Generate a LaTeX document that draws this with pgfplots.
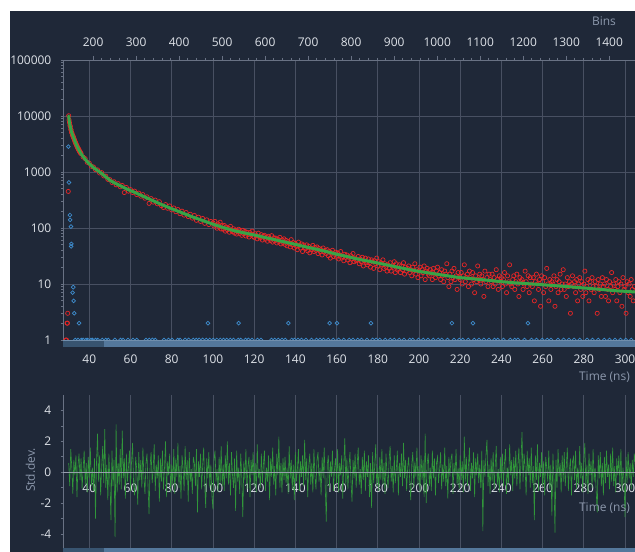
\documentclass[border=0pt]{standalone}
\usepackage{pgfplots}
\pgfplotsset{compat=1.18}
\usepackage{fontspec}
\setmainfont{Open Sans}
\definecolor{bgc}{RGB}{31,40,56}
\definecolor{gridc}{RGB}{72,80,98}
\definecolor{axc}{RGB}{105,114,132}
\definecolor{tickc}{RGB}{222,226,232}
\definecolor{dimc}{RGB}{140,152,172}
\definecolor{redc}{RGB}{232,38,38}
\definecolor{fitc}{RGB}{55,165,70}
\definecolor{bluec}{RGB}{62,140,205}
\definecolor{resc}{RGB}{48,150,58}
\definecolor{zeroc}{RGB}{150,158,172}
\definecolor{barc}{RGB}{84,120,156}
\definecolor{bardc}{RGB}{56,84,112}
\definecolor{barl}{RGB}{112,142,172}
\newcommand{\tf}{\fontsize{12}{14}\selectfont}
\pgfplotsset{base/.style={scale only axis, width=572bp, xmin=27.23, xmax=304.85,
  /pgf/number format/assume math mode=true, /pgf/number format/1000 sep={},
  tick label style={font=\tf, text=tickc},
  axis line style={axc, line width=0.8bp},
  major grid style={gridc, line width=0.8bp},
  tick style={axc, line width=0.8bp}}}
\begin{document}
\begin{tikzpicture}[x=1bp,y=1bp]
\fill[white] (0,0) rectangle (635,-552);
\fill[bgc] (10,-11) rectangle (635,-552);
% main decay plot
\begin{axis}[base, at={(63bp,-340bp)}, anchor=south west, height=280bp,
  ymode=log, ymin=1, ymax=100000, axis lines*=left, clip marker paths=true,
  xtick={40,60,...,300}, ytick={1,10,100,1000,10000,100000},
  yticklabels={1,10,100,1000,10000,100000},
  minor ytick={2,3,4,5,6,7,8,9,20,30,40,50,60,70,80,90,200,300,400,500,600,700,800,900,2000,3000,4000,5000,6000,7000,8000,9000,20000,30000,40000,50000,60000,70000,80000,90000},
  grid=major, x tick style={draw=none}, tick align=outside,
  major tick length=2.5bp, minor tick length=2bp,
  xticklabel style={anchor=north, inner sep=0pt, yshift=-11.8bp},
  yticklabel style={anchor=east, inner sep=0pt, xshift=-9bp}]
% IRF (blue)
\addplot[only marks, mark=o, mark size=1.9bp, bluec, line width=0.7bp] coordinates {
(29.8,2840) (30.1,650) (30.6,170) (30.7,140) (31.1,106) (31.2,47) (31.3,52) (31.9,7) (32.2,8.8) (32.4,5) (32.7,3) (35.0,2)
(97.6,2) (112.5,2) (136.6,2) (156.6,2) (160.2,2) (176.7,2) (216,2) (226.2,2) (252.9,2)
(33.2,1) (34.5,1) (36.1,1) (37.0,1) (38.4,1) (39.2,1) (40.8,1) (41.5,1) (43.0,1) (44.1,1) (46.3,1) (48.0,1) (49.2,1) (52.4,1) (55.1,1) (56.3,1) (58.8,1) (61.2,1) (63.0,1) (67.5,1) (69.1,1) (70.6,1) (72.0,1) (76.2,1) (78.4,1) (80.1,1) (82.9,1) (84.0,1) (86.5,1) (88.2,1) (90.4,1) (91.9,1) (93.3,1) (95.0,1) (96.8,1) (98.5,1) (100.2,1) (101.9,1) (103.6,1) (105.1,1) (106.7,1) (108.4,1) (110.0,1) (112.3,1) (113.5,1) (115.8,1) (117.2,1) (119.0,1) (121.6,1) (123.3,1) (128.4,1) (130.0,1) (131.7,1) (133.5,1) (135.1,1) (138.2,1) (139.6,1) (141.3,1) (143.0,1) (145.2,1) (147.8,1) (150.3,1) (152.0,1) (153.7,1) (156.0,1) (158.4,1) (161.0,1) (163.5,1) (166.2,1) (168.0,1) (170.3,1) (172.1,1) (174.8,1) (177.5,1) (179.2,1) (181.0,1) (183.6,1) (186.1,1) (188.0,1) (190.4,1) (192.7,1) (195.5,1) (197.0,1) (199.8,1) (202.1,1) (204.4,1) (206.9,1) (209.3,1) (211.0,1) (213.8,1) (217.0,1) (219.5,1) (221.2,1) (223.9,1) (226.8,1) (229.1,1) (231.5,1) (234.0,1) (236.7,1) (238.2,1) (241.0,1) (244.3,1) (246.5,1) (248.0,1) (251.2,1) (254.6,1) (257.0,1) (259.8,1) (262.3,1) (264.1,1) (267.5,1) (270.2,1) (272.8,1) (275.3,1) (278.0,1) (281.6,1) (284.2,1) (287.0,1) (289.9,1) (292.5,1) (295.1,1) (297.8,1) (300.4,1) (303.0,1)};
% decay data (red)
\addplot[only marks, mark=o, mark size=2.1bp, redc, line width=0.7bp] coordinates {
(28.6,1) (28.9,1) (29.2,2) (29.4,2) (29.5,3) (29.8,450)
(30.0,10100) (30.2,8450) (30.4,7600) (30.6,6800) (30.8,6500) (31.0,5800) (31.2,5600) (31.4,5050) (31.6,4950) (31.8,4550)
(32.0,4500) (32.2,4180) (32.4,4150) (32.6,3850) (32.8,3780) (33.0,3480) (33.2,3450) (33.4,3200) (33.6,3190) (33.8,2960)
(34.0,2950) (34.2,2750) (34.4,2740) (34.6,2570) (34.8,2570) (35.0,2400) (35.2,2420) (35.4,2270) (35.6,2280) (35.8,2140) (36.0,2150)
(37,1850) (38,1730) (39,1490) (40,1430) (41,1260) (42,1230) (43,1100) (44,1090) (45,960) (46,975) (47,850) (48,845) (49,740)
(50,730) (51,650) (52,670) (53,590) (54,620) (55,545) (56,575) (57,430) (58,530) (59,455) (60,485) (61,430) (62,455) (63,395)
(64,420) (65,370) (66,395) (67,340) (68,360) (69,275) (70,335) (71,290) (72,315) (73,270) (74,295) (75,250) (76,232) (77,262)
(78,225) (79,248) (80,210) (81,228) (82,195) (83,214) (84,180) (85,200) (86,170) (87,189) (88,160) (89,176) (90,150) (91,168)
(92,137) (93,156) (94,131) (95,148) (96,121) (97,140) (98,115) (99,131)
(100,124) (100.5,108) (101,131) (101.5,112) (102,99) (102.5,119) (103,105) (103.5,127) (104,96) (104.5,110)
(105,95) (105.5,111) (106,88) (106.5,104) (107,93) (107.5,99) (108,84) (108.5,107) (109,91) (109.5,86)
(110,97) (110.5,81) (111,92) (111.5,78) (112,88) (112.5,95) (113,80) (113.5,86) (114,74) (114.5,91)
(115,79) (115.5,87) (116,72) (116.5,84) (117,76) (117.5,69) (118,83) (118.5,77) (119,88) (119.5,71)
(120,68) (120.5,79) (121,73) (121.5,64) (122,81) (122.5,70) (123,66) (123.5,76) (124,61) (124.5,72)
(125,74) (125.5,63) (126,69) (126.5,58) (127,71) (127.5,65) (128,60) (128.5,73) (129,56) (129.5,67)
(130,59) (130.5,66) (131,54) (131.5,63) (132,57) (132.5,68) (133,52) (133.5,61) (134,55) (134.5,64)
(135,51) (135.5,60) (136,48) (136.5,57) (137,53) (137.5,46) (138,62) (138.5,50) (139,55) (139.5,44)
(140,53) (140.5,47) (141,41) (141.5,56) (142,49) (142.5,44) (143,52) (143.5,38) (144,50) (144.5,45)
(145,43) (145.5,50) (146,39) (146.5,47) (147,36) (147.5,44) (148,41) (148.5,49) (149,38) (149.5,45)
(150,40) (150.5,46) (151,35) (151.5,43) (152,38) (152.5,41) (153,33) (153.5,44) (154,37) (154.5,40)
(155,35) (155.5,41) (156,32) (156.5,38) (157,29) (157.5,36) (158,40) (158.5,31) (159,34) (159.5,37)
(160,30) (160.5,36) (161,28) (161.5,33) (162,38) (162.5,29) (163,31) (163.5,26) (164,34) (164.5,30)
(165,33) (165.5,27) (166,30) (166.5,24) (167,32) (167.5,28) (168,35) (168.5,25) (169,29) (169.5,26)
(170,27) (170.5,31) (171,23) (171.5,28) (172,25) (172.5,30) (173,21) (173.5,26) (174,29) (174.5,24)
(175,22) (175.5,28) (176,24) (176.5,20) (177,27) (177.5,25) (178,19) (178.5,26) (179,23) (179.5,29)
(180,21) (180.5,25) (181,18) (181.5,24) (182,22) (182.5,27) (183,19) (183.5,23) (184,20) (184.5,17)
(185,22) (185.5,19) (186,24) (186.5,17) (187,21) (187.5,20) (188,25) (188.5,16) (189,23) (189.5,18)
(190,19) (190.5,22) (191,16) (191.5,21) (192,18) (192.5,24) (193,15) (193.5,20) (194,17) (194.5,19)
(195,21) (195.5,16) (196,18) (196.5,14) (197,20) (197.5,17) (198,23) (198.5,15) (199,18) (199.5,13)
(200,17) (200.5,20) (201,14) (201.5,18) (202,16) (202.5,21) (203,12) (203.5,17) (204,19) (204.5,15)
(205,14) (205.5,18) (206,16) (206.5,12) (207,19) (207.5,15) (208,13) (208.5,17) (209,20) (209.5,14)
(210,16) (210.5,12) (211,18) (211.5,14) (212,11) (212.5,17) (213,15) (213.5,23) (214,13) (214.5,9)
(215,15) (215.5,11) (216,17) (216.5,13) (217,19) (217.5,12) (218,14) (218.5,8) (219,16) (219.5,13)
(220,12) (220.5,16) (221,10) (221.5,14) (222,22) (222.5,11) (223,13) (223.5,15) (224,9) (224.5,17)
(225,13) (225.5,10) (226,16) (226.5,12) (227,7) (227.5,14) (228,11) (228.5,21) (229,12) (229.5,15)
(230,10) (230.5,14) (231,12) (231.5,6) (232,17) (232.5,11) (233,13) (233.5,9) (234,15) (234.5,12)
(235,11) (235.5,15) (236,9) (236.5,13) (237,10) (237.5,18) (238,12) (238.5,8) (239,14) (239.5,11)
(240,13) (240.5,9) (241,12) (241.5,16) (242,10) (242.5,7) (243,14) (243.5,11) (244,22) (244.5,10)
(245,9) (245.5,12) (246,14) (246.5,8) (247,11) (247.5,15) (248,10) (248.5,6) (249,13) (249.5,11)
(250,12) (250.5,8) (251,10) (251.5,17) (252,11) (252.5,9) (253,14) (253.5,7) (254,13) (254.5,10)
(255,9) (255.5,13) (256,5) (256.5,11) (257,15) (257.5,10) (258,8) (258.5,12) (259,4) (259.5,14)
(260,11) (260.5,7) (261,13) (261.5,9) (262,19) (262.5,10) (263,5) (263.5,12) (264,8) (264.5,11)
(265,10) (265.5,14) (266,4) (266.5,9) (267,12) (267.5,7) (268,11) (268.5,15) (269,8) (269.5,10)
(270,18) (270.5,8) (271,10) (271.5,6) (272,13) (272.5,9) (273,11) (273.5,3) (274,10) (274.5,14)
(275,9) (275.5,11) (276,7) (276.5,12) (277,5) (277.5,10) (278,13) (278.5,8) (279,11) (279.5,6)
(280,10) (280.5,17) (281,7) (281.5,9) (282,12) (282.5,5) (283,11) (283.5,8) (284,13) (284.5,9)
(285,7) (285.5,11) (286,9) (286.5,3) (287,12) (287.5,8) (288,10) (288.5,6) (289,13) (289.5,9)
(290,10) (290.5,6) (291,12) (291.5,8) (292,5) (292.5,11) (293,9) (293.5,16) (294,7) (294.5,10)
(295,8) (295.5,12) (296,5) (296.5,9) (297,11) (297.5,7) (298,10) (298.5,4) (299,13) (299.5,8)
(300,9) (300.5,3) (301,11) (301.5,7) (302,10) (302.5,6) (303,12) (303.5,8) (304,5) (304.5,9) (305,8)};
% fit (green)
\addplot[fitc, line width=3bp, line join=round, line cap=round] coordinates {
(30.0,10000) (30.2,8600) (30.4,7500) (30.6,6900) (30.8,6400) (31.0,5900) (31.5,5000) (32.0,4450) (32.5,4000) (33.0,3550)
(33.5,3200) (34.0,2900) (35.0,2450) (36.0,2120) (37.0,1880) (38.0,1690) (39.0,1530) (40.0,1400) (42.0,1200) (44.0,1060)
(46.0,940) (48.0,820) (50.0,710) (52.5,630) (55.0,570) (57.5,510) (60.0,465) (62.5,425) (65.0,385) (67.5,350) (70.0,318)
(75.0,263) (80.0,221) (85.0,187) (90.0,158) (95.0,136) (100.0,117) (105.0,102) (110.0,90) (115.0,82) (120.0,75)
(125.0,68) (130.0,62) (135.0,56) (140.0,51) (145.0,46) (150.0,42) (155.0,38) (160.0,34) (165.0,31) (170.0,28)
(175.0,25.8) (180.0,23.7) (185.0,21.7) (190.0,19.8) (195.0,18.2) (200.0,16.8) (205.0,15.7) (210.0,14.7) (215.0,13.8)
(220.0,13.0) (225.0,12.5) (230.0,12.0) (235.0,11.5) (240.0,11.0) (245.0,10.6) (250.0,10.3) (255.0,10.0) (260.0,9.7)
(265.0,9.4) (270.0,9.1) (275.0,8.8) (280.0,8.5) (285.0,8.2) (290.0,7.9) (295.0,7.6) (300.0,7.4) (305.0,7.2)};
\end{axis}
% bins axis on top
\begin{axis}[base, at={(63bp,-340bp)}, anchor=south west, height=280bp,
  xmin=130, xmax=1460, ymin=0, ymax=1, axis x line*=top, axis y line=none,
  xtick={200,300,...,1400}, minor x tick num=4, tick align=outside,
  major tick length=4bp, minor tick length=2bp,
  xticklabel style={anchor=south, inner sep=0pt, yshift=9.6bp}]
\addplot[draw=none] coordinates {(200,0.5)};
\end{axis}
% residuals
\begin{axis}[base, at={(63bp,-548bp)}, anchor=south west, height=153bp,
  ymin=-4.9, ymax=5, axis lines*=left,
  xtick={40,60,...,300}, x tick style={draw=none}, xmajorgrids,
  ytick={-4,-2,0,2,4}, minor ytick={-3,-1,1,3}, tick align=outside,
  major tick length=2.5bp, minor tick length=2bp,
  xticklabel style={anchor=north, inner sep=0pt, yshift=67bp},
  yticklabel style={anchor=east, inner sep=0pt, xshift=-9bp}]
\addplot[resc, line width=0.6bp] coordinates {
(30,0.6) (30.5,-0.9) (31,1.5) (31.5,0.3) (32,-1.4) (32.5,0.8) (33,-0.2) (33.5,1.1) (34,-1.6) (34.5,0.4)
(35,1.2) (35.5,-0.5) (36,0.9) (36.5,-1.1) (37,0.2) (37.5,1.4) (38,-0.8) (38.5,0.6) (39,-1.3) (39.5,1.0)
(40,-0.4) (40.5,1.6) (41,-0.9) (41.5,0.3) (42,-1.2) (42.5,0.9) (43,-3.0) (43.5,0.7) (44,2.5) (44.5,-0.6)
(45,1.1) (45.5,-1.5) (46,0.4) (46.5,1.7) (47,-0.7) (47.5,2.8) (48,-1.0) (48.5,0.5) (49,-1.8) (49.5,1.2)
(50,-0.6) (50.5,-3.1) (51,1.4) (51.5,-0.9) (52,0.8) (52.5,-4.2) (53,3.1) (53.5,-1.3) (54,0.6) (54.5,-0.8)
(55,1.5) (55.5,-1.1) (56,2.7) (56.5,-0.4) (57,0.9) (57.5,-1.7) (58,1.2) (58.5,-0.6) (59,0.3) (59.5,1.4)
(60,-1.2) (60.5,0.7) (61,1.9) (61.5,-0.8) (62,-1.5) (62.5,1.0) (63,0.2) (63.5,-2.1) (64,1.3) (64.5,-0.5)
(65,0.8) (65.5,-1.0) (66,1.6) (66.5,-0.3) (67,-1.4) (67.5,0.6) (68,1.2) (68.5,-0.9) (69,-2.7) (69.5,0.4)
(70,1.3) (70.5,-0.7) (71,0.2) (71.5,1.8) (72,-1.2) (72.5,0.5) (73,-0.4) (73.5,1.1) (74,-1.9) (74.5,0.9)
(75,-0.6) (75.5,1.4) (76,-1.1) (76.5,0.3) (77,2.0) (77.5,-1.6) (78,0.7) (78.5,-0.2) (79,1.2) (79.5,-1.3)
(80,0.5) (80.5,-0.8) (81,1.5) (81.5,-1.4) (82,0.9) (82.5,-0.3) (83,1.9) (83.5,-1.0) (84,0.4) (84.5,-1.7)
(85,1.1) (85.5,0.3) (86,-1.2) (86.5,1.7) (87,-0.5) (87.5,0.8) (88,-1.9) (88.5,1.3) (89,-0.6) (89.5,0.2)
(90,-1.4) (90.5,1.0) (91,0.6) (91.5,-0.9) (92,1.5) (92.5,-2.6) (93,0.7) (93.5,-0.3) (94,1.2) (94.5,-1.1)
(95,0.4) (95.5,1.6) (96,-0.8) (96.5,-2.3) (97,0.9) (97.5,-0.4) (98,1.3) (98.5,-1.0) (99,0.5) (99.5,-1.5)
(100,-2.4) (100.5,0.8) (101,1.4) (101.5,-0.6) (102,0.2) (102.5,-1.3) (103,1.0) (103.5,-0.7) (104,1.7) (104.5,-0.9)
(105,0.5) (105.5,-1.2) (106,1.1) (106.5,-0.4) (107,2.0) (107.5,-0.8) (108,0.6) (108.5,-1.5) (109,1.3) (109.5,-0.2)
(110,-1.0) (110.5,0.9) (111,-2.5) (111.5,1.4) (112,-0.6) (112.5,0.3) (113,-1.4) (113.5,1.2) (114,-0.3) (114.5,-2.9)
(115,0.7) (115.5,-0.5) (116,1.5) (116.5,-1.1) (117,0.4) (117.5,1.0) (118,-1.6) (118.5,0.8) (119,-0.2) (119.5,1.3)
(120,-0.9) (120.5,0.6) (121,-1.3) (121.5,1.8) (122,-0.4) (122.5,0.2) (123,-1.0) (123.5,1.2) (124,-0.7) (124.5,0.5)
(125,1.4) (125.5,-1.2) (126,0.3) (126.5,-0.6) (127,1.1) (127.5,-1.8) (128,0.9) (128.5,-0.3) (129,1.6) (129.5,-0.8)
(130,0.4) (130.5,-1.5) (131,1.2) (131.5,-0.2) (132,2.3) (132.5,-1.0) (133,0.6) (133.5,-1.3) (134,0.9) (134.5,-0.5)
(135,1.0) (135.5,-0.7) (136,0.3) (136.5,-1.4) (137,1.7) (137.5,-0.4) (138,0.8) (138.5,-1.1) (139,0.5) (139.5,-1.8)
(140,1.3) (140.5,-0.6) (141,0.2) (141.5,1.5) (142,-1.2) (142.5,0.7) (143,-0.3) (143.5,1.1) (144,-0.9) (144.5,2.1)
(145,-0.5) (145.5,0.9) (146,-1.6) (146.5,0.4) (147,1.2) (147.5,-0.8) (148,0.6) (148.5,-1.3) (149,1.5) (149.5,-0.2)
(150,-1.1) (150.5,0.8) (151,1.3) (151.5,-0.6) (152,0.3) (152.5,-1.5) (153,1.0) (153.5,-0.4) (154,1.6) (154.5,-0.9)
(155,-3.2) (155.5,0.5) (156,1.1) (156.5,-1.0) (157,0.7) (157.5,-0.3) (158,1.4) (158.5,-1.2) (159,0.2) (159.5,0.9)
(160,-0.7) (160.5,1.5) (161,-1.3) (161.5,0.6) (162,-0.2) (162.5,1.1) (163,-1.7) (163.5,0.4) (164,2.2) (164.5,-0.8)
(165,0.9) (165.5,-1.1) (166,0.3) (166.5,1.3) (167,-0.6) (167.5,-1.9) (168,0.8) (168.5,-0.4) (169,1.2) (169.5,-1.0)
(170,0.5) (170.5,1.6) (171,-0.8) (171.5,0.2) (172,-1.4) (172.5,1.0) (173,-0.5) (173.5,1.4) (174,-1.2) (174.5,0.7)
(175,-0.3) (175.5,1.1) (176,-1.6) (176.5,0.6) (177,-2.3) (177.5,1.3) (178,-0.7) (178.5,0.4) (179,1.8) (179.5,-0.9)
(180,0.3) (180.5,-1.2) (181,1.0) (181.5,-0.5) (182,1.5) (182.5,-0.8) (183,0.6) (183.5,-1.4) (184,1.2) (184.5,-0.2)
(185,-1.0) (185.5,0.8) (186,1.7) (186.5,-0.6) (187,0.4) (187.5,-1.3) (188,1.1) (188.5,-0.7) (189,0.2) (189.5,1.4)
(190,-1.5) (190.5,0.6) (191,-0.3) (191.5,1.2) (192,-0.9) (192.5,1.9) (193,-0.4) (193.5,0.8) (194,-1.2) (194.5,0.3)
(195,1.0) (195.5,-0.6) (196,-1.8) (196.5,0.5) (197,1.3) (197.5,-1.0) (198,0.7) (198.5,-0.3) (199,1.6) (199.5,-0.8)
(200,0.4) (200.5,-1.3) (201,1.1) (201.5,-0.5) (202,0.8) (202.5,-1.6) (203,2.5) (203.5,-2.0) (204,0.6) (204.5,1.2)
(205,-0.9) (205.5,0.3) (206,-1.2) (206.5,1.4) (207,-0.4) (207.5,0.9) (208,-1.5) (208.5,0.6) (209,1.0) (209.5,-0.7)
(210,0.2) (210.5,1.3) (211,-1.1) (211.5,0.5) (212,-0.6) (212.5,1.6) (213,-0.9) (213.5,0.4) (214,-1.7) (214.5,1.0)
(215,-0.3) (215.5,0.8) (216,1.2) (216.5,-1.4) (217,0.6) (217.5,-0.2) (218,1.5) (218.5,-0.8) (219,0.3) (219.5,-1.1)
(220,1.1) (220.5,-0.5) (221,0.7) (221.5,-1.3) (222,2.3) (222.5,-0.6) (223,1.0) (223.5,-0.9) (224,0.4) (224.5,1.6)
(225,-1.2) (225.5,0.6) (226,-0.4) (226.5,1.3) (227,-1.6) (227.5,0.9) (228,-0.2) (228.5,1.2) (229,-0.7) (229.5,0.5)
(230,-1.0) (230.5,1.4) (231,-3.8) (231.5,0.8) (232,-0.3) (232.5,1.1) (233,2.1) (233.5,-0.9) (234,0.5) (234.5,-1.4)
(235,0.9) (235.5,-0.6) (236,1.3) (236.5,-1.1) (237,0.4) (237.5,1.7) (238,-0.8) (238.5,0.2) (239,-1.3) (239.5,1.0)
(240,-0.5) (240.5,1.2) (241,-0.9) (241.5,0.6) (242,1.5) (242.5,-1.4) (243,0.3) (243.5,-0.7) (244,1.8) (244.5,-0.2)
(245,0.8) (245.5,-1.2) (246,1.0) (246.5,-0.4) (247,1.4) (247.5,-0.9) (248,0.5) (248.5,1.6) (249,-1.1) (249.5,0.7)
(250,2.6) (250.5,-0.6) (251,1.2) (251.5,0.3) (252,-1.5) (252.5,1.4) (253,-0.2) (253.5,0.9) (254,-1.0) (254.5,1.6)
(255,-0.7) (255.5,0.4) (256,-3.1) (256.5,1.1) (257,-0.5) (257.5,1.8) (258,-1.2) (258.5,0.6) (259,-0.3) (259.5,1.3)
(260,-0.9) (260.5,0.7) (261,-1.5) (261.5,1.0) (262,0.3) (262.5,-0.6) (263,1.4) (263.5,-1.1) (264,0.5) (264.5,-2.8)
(265,1.2) (265.5,-0.4) (266,-3.9) (266.5,0.8) (267,-1.0) (267.5,1.5) (268,-0.3) (268.5,0.6) (269,-1.3) (269.5,1.1)
(270,-0.6) (270.5,1.3) (271,-0.9) (271.5,0.4) (272,1.6) (272.5,-1.2) (273,0.2) (273.5,0.9) (274,-1.5) (274.5,0.7)
(275,1.0) (275.5,-0.5) (276,1.4) (276.5,-1.1) (277,0.3) (277.5,-0.8) (278,1.7) (278.5,-0.4) (279,0.6) (279.5,-1.3)
(280,0.8) (280.5,1.9) (281,-0.9) (281.5,0.5) (282,-1.4) (282.5,1.2) (283,-0.2) (283.5,0.7) (284,-1.0) (284.5,1.5)
(285,-0.6) (285.5,0.3) (286,-1.2) (286.5,-2.6) (287,1.1) (287.5,-0.4) (288,1.3) (288.5,-0.9) (289,0.6) (289.5,-1.5)
(290,1.0) (290.5,-0.7) (291,1.4) (291.5,-0.3) (292,0.5) (292.5,-1.1) (293,1.2) (293.5,-0.6) (294,1.6) (294.5,-0.9)
(295,0.4) (295.5,-1.3) (296,0.9) (296.5,-0.2) (297,1.1) (297.5,-0.8) (298,1.5) (298.5,-1.2) (299,0.3) (299.5,-0.5)
(300,-2.9) (300.5,1.0) (301,-0.7) (301.5,1.3) (302,-0.4) (302.5,0.6) (303,-1.1) (303.5,0.8) (304,-0.3) (304.5,1.2) (305,0.5)};
\addplot[zeroc, line width=0.9bp] coordinates {(27.23,0) (304.85,0)};
\end{axis}
% scroll bars
\fill[barc] (63,-339.5) rectangle (635,-347.3);
\fill[bardc] (63,-339.5) rectangle (104,-347.3);
\draw[barl, line width=0.8] (63,-339.9) -- (635,-339.9);
\fill[barc] (63,-548.3) rectangle (635,-552);
\fill[bardc] (63,-548.3) rectangle (104,-552);
% labels
\node[text=dimc, font=\tf] at (604,-21) {Bins};
\node[text=dimc, font=\tf, anchor=east, inner sep=0pt] at (630,-377) {Time (ns)};
\node[text=dimc, font=\tf, anchor=east, inner sep=0pt] at (630,-508.5) {Time (ns)};
\node[text=dimc, font=\tf, rotate=90] at (30.5,-470) {Std.dev.};
\pgfresetboundingbox
\useasboundingbox (0,0) rectangle (635,-552);
\end{tikzpicture}
\end{document}
